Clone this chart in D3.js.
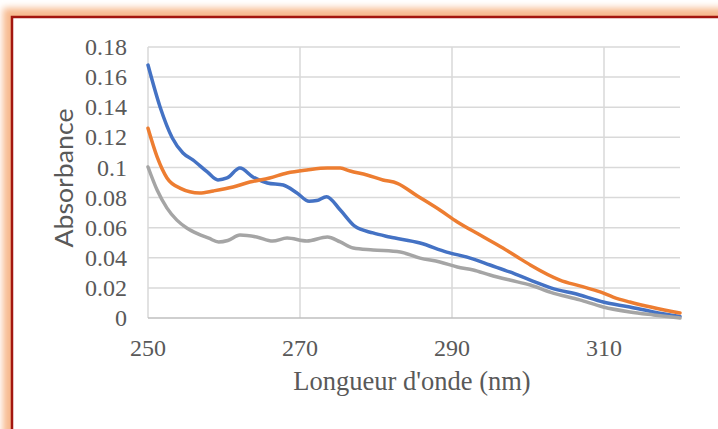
<!DOCTYPE html>
<html>
<head>
<meta charset="utf-8">
<script src="https://cdnjs.cloudflare.com/ajax/libs/d3/7.8.5/d3.min.js"></script>
<style>
  body { margin: 0; background: #fff; overflow: hidden; }
  svg { display: block; }
</style>
</head>
<body>
<svg id="chart" width="718" height="429"></svg>
<script>
// values
var blueX = [250, 251.6, 253.2, 254.6, 255.9, 257.8, 259.2, 260.4, 262.1, 263.8, 265.7, 267.8, 269.6, 271.2, 272.2, 273.5, 275.3, 277.2, 279.6, 281.8, 285.8, 289.3, 292.4, 295, 297.6, 300.3, 303, 306.8, 309.9, 313.4, 316.5, 320];
var blueY = [0.168, 0.140, 0.1196, 0.1096, 0.105, 0.097, 0.0917, 0.093, 0.0996, 0.0937, 0.0897, 0.0883, 0.083, 0.0775, 0.078, 0.0806, 0.0717, 0.061, 0.0565, 0.0538, 0.0498, 0.0438, 0.0398, 0.0352, 0.0306, 0.0252, 0.020, 0.0153, 0.0106, 0.0073, 0.004, 0.001];

var orangeX = [250, 251.2, 252.5, 254.2, 256.8, 258.6, 261.2, 263.4, 266, 268.3, 270.9, 273.6, 275.3, 276.6, 278.8, 280.9, 282.8, 285.4, 288.4, 290.7, 293.7, 296.7, 298.6, 300.3, 304.2, 306.8, 309.5, 311.2, 313.4, 320];
var orangeY = [0.126, 0.107, 0.093, 0.0863, 0.083, 0.0844, 0.087, 0.0903, 0.093, 0.0963, 0.0983, 0.0996, 0.0996, 0.0976, 0.095, 0.0917, 0.0895, 0.0812, 0.0717, 0.0638, 0.0551, 0.0465, 0.0405, 0.0352, 0.0252, 0.0213, 0.0173, 0.0139, 0.0106, 0.0033];

var grayX = [250, 251.2, 252.5, 253.8, 255.1, 256.5, 258, 259.3, 260.5, 262.1, 264.3, 266.4, 268.3, 270.9, 273.6, 275.3, 277, 279.6, 283.2, 285.8, 288.4, 290.7, 292.8, 295, 297.6, 300.3, 303, 306.8, 309.9, 313.4, 316.5, 320];
var grayY = [0.1003, 0.085, 0.073, 0.065, 0.0598, 0.056, 0.053, 0.0505, 0.0515, 0.0551, 0.0538, 0.0511, 0.0531, 0.0511, 0.0538, 0.0505, 0.0465, 0.0452, 0.0438, 0.0398, 0.0372, 0.0339, 0.0319, 0.0286, 0.0252, 0.0219, 0.017, 0.012, 0.0073, 0.004, 0.002, 0];

var xTicks = [250, 270, 290, 310];
var yTicks = [0, 0.02, 0.04, 0.06, 0.08, 0.1, 0.12, 0.14, 0.16, 0.18];
var xTitle = "Longueur d'onde (nm)";
var yTitle = "Absorbance";

var svg = d3.select("#chart");

// glow + dark red frame (right and bottom edges are off the picture)
var defs = svg.append("defs");
defs.append("filter").attr("id", "glow")
    .attr("filterUnits", "userSpaceOnUse")
    .attr("x", -40).attr("y", -40).attr("width", 900).attr("height", 600)
    .append("feGaussianBlur").attr("stdDeviation", 3.5);

svg.append("path")
    .attr("d", "M900,17H12V600")
    .attr("fill", "none").attr("stroke", "#f7b98e").attr("stroke-width", 18)
    .attr("filter", "url(#glow)");
svg.append("rect")
    .attr("x", 12).attr("y", 17).attr("width", 900).attr("height", 600)
    .attr("fill", "#fff").attr("stroke", "#a3160f").attr("stroke-width", 2.5);

var x = d3.scaleLinear().domain([250, 320]).range([148, 680]);
var y = d3.scaleLinear().domain([0, 0.18]).range([318, 47]);

// gridlines
svg.append("g").selectAll("line").data(yTicks.slice(1)).enter().append("line")
    .attr("x1", x(250)).attr("x2", x(320))
    .attr("y1", function (d) { return y(d); }).attr("y2", function (d) { return y(d); })
    .attr("stroke", "#d9d9d9").attr("stroke-width", 1.5);
svg.append("g").selectAll("line").data(xTicks).enter().append("line")
    .attr("x1", function (d) { return x(d); }).attr("x2", function (d) { return x(d); })
    .attr("y1", y(0)).attr("y2", y(0.18))
    .attr("stroke", "#d9d9d9").attr("stroke-width", 1.5);
svg.append("line")
    .attr("x1", x(250)).attr("x2", x(320)).attr("y1", y(0)).attr("y2", y(0))
    .attr("stroke", "#bfbfbf").attr("stroke-width", 1.5);

// tick labels
svg.append("g").selectAll("text").data(yTicks).enter().append("text")
    .attr("x", 127).attr("y", function (d) { return y(d); }).attr("dy", "0.34em")
    .attr("text-anchor", "end")
    .style("font-family", "'Liberation Serif', 'Times New Roman', serif")
    .style("font-size", "24px").attr("fill", "#595959")
    .text(function (d) { return +d.toFixed(2); });
svg.append("g").selectAll("text").data(xTicks).enter().append("text")
    .attr("x", function (d) { return x(d); }).attr("y", 356)
    .attr("text-anchor", "middle")
    .style("font-family", "'Liberation Serif', 'Times New Roman', serif")
    .style("font-size", "24px").attr("fill", "#595959")
    .text(function (d) { return d; });

// axis titles
svg.append("text")
    .attr("x", 412).attr("y", 390).attr("text-anchor", "middle")
    .style("font-family", "'Liberation Serif', 'Times New Roman', serif")
    .style("font-size", "26.5px").attr("fill", "#595959")
    .text(xTitle);
svg.append("text")
    .attr("transform", "translate(73,178) rotate(-90)")
    .attr("text-anchor", "middle")
    .attr("textLength", 139).attr("lengthAdjust", "spacingAndGlyphs")
    .style("font-family", "Lato, 'Open Sans', sans-serif")
    .style("font-size", "25px").attr("fill", "#595959")
    .text(yTitle);

// series
var series = [
    {xs: blueX, ys: blueY, color: "#4472c4"},
    {xs: orangeX, ys: orangeY, color: "#ed7d31"},
    {xs: grayX, ys: grayY, color: "#a5a5a5"}
];
var line = d3.line()
    .x(function (d) { return x(d[0]); })
    .y(function (d) { return y(d[1]); })
    .curve(d3.curveMonotoneX);

series.forEach(function (s) {
    var pts = s.xs.map(function (e, i) { return [e, s.ys[i]]; });
    svg.append("path").datum(pts)
        .attr("d", line)
        .attr("fill", "none")
        .attr("stroke", s.color)
        .attr("stroke-width", 3.5)
        .attr("stroke-linejoin", "round")
        .attr("stroke-linecap", "round");
});
</script>
</body>
</html>
